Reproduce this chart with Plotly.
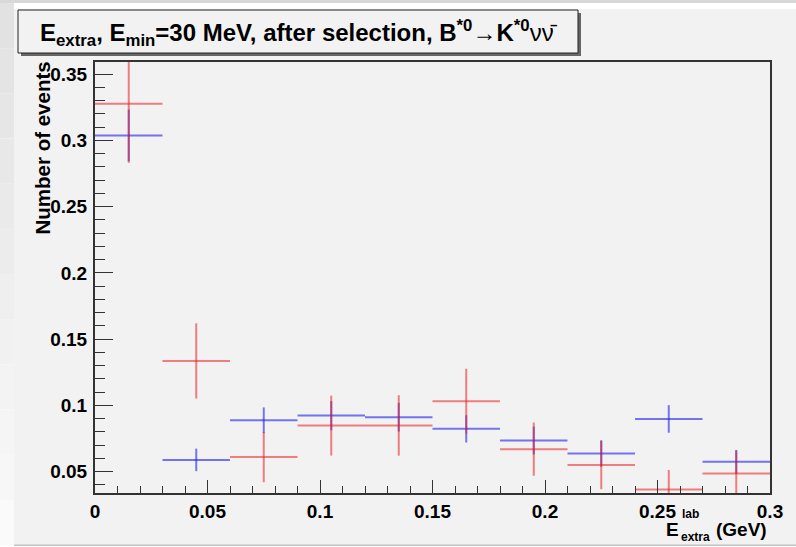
import plotly.graph_objects as go

# ---------------- data ----------------
bin_centers = [0.015, 0.045, 0.075, 0.105, 0.135, 0.165, 0.195, 0.225, 0.255, 0.285]
bin_half_width = [0.015] * 10

blue_values = [0.3038, 0.0589, 0.0888, 0.0923, 0.0911, 0.0823, 0.0735, 0.0637, 0.0898, 0.0574]
blue_errors = [0.0195, 0.0085, 0.0097, 0.0110, 0.0108, 0.0103, 0.0105, 0.0100, 0.0104, 0.0090]

red_values = [0.3276, 0.1336, 0.0610, 0.0848, 0.0849, 0.1032, 0.0670, 0.0550, 0.0365, 0.0486]
red_errors = [0.0445, 0.0284, 0.0190, 0.0226, 0.0228, 0.0245, 0.0201, 0.0182, 0.0148, 0.0173]

x_tickvals = [0, 0.05, 0.1, 0.15, 0.2, 0.25, 0.3]
x_ticktext = ["0", "0.05", "0.1", "0.15", "0.2", "0.25", "0.3"]
y_tickvals = [0.05, 0.1, 0.15, 0.2, 0.25, 0.3, 0.35]
y_ticktext = ["0.05", "0.1", "0.15", "0.2", "0.25", "0.3", "0.35"]

title_text = ("<b>E<sub>extra</sub>, E<sub>min</sub>=30 MeV, after selection, "
              "B<sup>*0</sup>→K<sup>*0</sup></b>νν̄")
y_title = "<b>Number of events</b>"

# ---------------- layout geometry (pixels) ----------------
WIDTH, HEIGHT = 796, 547
L, R, T, B = 95, 770, 62, 493
PW, PH = R - L, B - T


def px(x):
    return (x - L) / PW


def py(y):
    return (B - y) / PH


FONT = "Liberation Sans, Arial, Helvetica, sans-serif"
RED = "rgba(236,30,30,0.55)"
BLUE = "rgba(30,30,236,0.6)"

fig = go.Figure()

for vals, errs, col in [(blue_values, blue_errors, BLUE), (red_values, red_errors, RED)]:
    fig.add_trace(go.Scatter(
        x=bin_centers, y=vals, mode="markers",
        marker=dict(size=0.1, color=col),
        error_x=dict(type="data", array=bin_half_width, color=col, thickness=2, width=0),
        error_y=dict(type="data", array=errs, color=col, thickness=2, width=0),
        showlegend=False, hoverinfo="skip",
    ))

shapes = [
    # canvas
    dict(type="rect", xref="paper", yref="paper", x0=px(14), x1=px(WIDTH), y0=py(545), y1=py(9),
         fillcolor="#f2f2f2", line=dict(width=0), layer="below"),
    # top strip
    dict(type="rect", xref="paper", yref="paper", x0=px(0), x1=px(WIDTH), y0=py(3), y1=py(0),
         fillcolor="#d8d8d8", line=dict(width=0), layer="below"),
    # bottom line
    dict(type="rect", xref="paper", yref="paper", x0=px(14), x1=px(WIDTH), y0=py(546), y1=py(544.5),
         fillcolor="#c4c4c4", line=dict(width=0), layer="below"),
    # title box shadow
    dict(type="rect", xref="paper", yref="paper", x0=px(21), x1=px(581), y0=py(56), y1=py(13),
         fillcolor="#666666", line=dict(width=0), layer="above"),
    # title box
    dict(type="rect", xref="paper", yref="paper", x0=px(18), x1=px(578), y0=py(53), y1=py(10),
         fillcolor="#f2f2f2", line=dict(color="#222222", width=1), layer="above"),
]
# left strip: soft vertical gradient (grey at top to near-white at bottom)
n_steps = 12
for i in range(n_steps):
    y0 = 3 + i * (545 - 3) / n_steps
    y1 = 3 + (i + 1) * (545 - 3) / n_steps
    g = int(226 + (250 - 226) * i / (n_steps - 1))
    shapes.append(dict(type="rect", xref="paper", yref="paper", x0=px(0), x1=px(14),
                       y0=py(y1), y1=py(y0), fillcolor=f"rgb({g},{g},{g})",
                       line=dict(width=0), layer="below"))

annotations = [
    dict(text=title_text, xref="paper", yref="paper", x=px(299), y=py(33),
         xanchor="center", yanchor="middle", showarrow=False,
         font=dict(family=FONT, size=24, color="black")),
    dict(text=y_title, xref="paper", yref="paper", x=px(42), y=py(60),
         xanchor="center", yanchor="top", textangle=-90, showarrow=False,
         font=dict(family=FONT, size=20.5, color="black")),
    # x title: E^lab_extra (GeV)
    dict(text="<b>E</b>", xref="paper", yref="paper", x=px(681), y=py(529),
         xanchor="right", yanchor="middle", showarrow=False,
         font=dict(family=FONT, size=19, color="black")),
    dict(text="<b>lab</b>", xref="paper", yref="paper", x=px(680), y=py(514),
         xanchor="left", yanchor="middle", showarrow=False,
         font=dict(family=FONT, size=12, color="black")),
    dict(text="<b>extra</b>", xref="paper", yref="paper", x=px(679), y=py(537),
         xanchor="left", yanchor="middle", showarrow=False,
         font=dict(family=FONT, size=12, color="black")),
    dict(text="<b>(GeV)</b>", xref="paper", yref="paper", x=px(769), y=py(529),
         xanchor="right", yanchor="middle", showarrow=False,
         font=dict(family=FONT, size=19, color="black")),
]

fig.update_layout(
    width=WIDTH, height=HEIGHT,
    margin=dict(l=L, r=WIDTH - R, t=T, b=HEIGHT - B, pad=0),
    paper_bgcolor="white", plot_bgcolor="#f2f2f2",
    shapes=shapes, annotations=annotations,
    font=dict(family=FONT, color="black"),
    showlegend=False,
)

fig.update_xaxes(
    range=[0, 0.3], tickmode="array", tickvals=x_tickvals,
    ticktext=[f"<b>{t}</b>" for t in x_ticktext],
    ticks="inside", ticklen=13, tickwidth=1.3, tickcolor="#333",
    minor=dict(dtick=0.01, tick0=0, ticks="inside", ticklen=7, tickwidth=1.3, tickcolor="#333"),
    showgrid=False, zeroline=False,
    showline=True, linecolor="#333", linewidth=2, mirror=True,
    tickfont=dict(family=FONT, size=19, color="black"),
    ticklabelstandoff=0,
)
fig.update_yaxes(
    range=[0.0339, 0.3592], tickmode="array", tickvals=y_tickvals,
    ticktext=[f"<b>{t}</b>" for t in y_ticktext],
    ticks="inside", ticklen=18, tickwidth=1.3, tickcolor="#333",
    minor=dict(dtick=0.01, tick0=0, ticks="inside", ticklen=10, tickwidth=1.3, tickcolor="#333"),
    showgrid=False, zeroline=False,
    showline=True, linecolor="#333", linewidth=2, mirror=True,
    tickfont=dict(family=FONT, size=19, color="black"),
    ticklabelstandoff=2,
)

fig.write_html(
    "out.html",
    config={"displayModeBar": False},
    post_script="document.body.style.margin='0';document.body.style.overflow='hidden';",
)
